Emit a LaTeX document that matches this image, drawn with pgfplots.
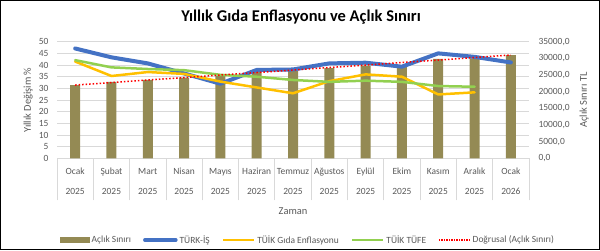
\documentclass[border=0pt]{standalone}
\usepackage{fontspec}
\setmainfont{Carlito}
\usepackage{pgfplots}
\pgfplotsset{compat=1.18}
\definecolor{barcol}{RGB}{148,138,84}
\definecolor{tblue}{RGB}{68,114,196}
\definecolor{tyellow}{RGB}{255,192,0}
\definecolor{tgreen}{RGB}{146,208,80}
\definecolor{tred}{RGB}{255,0,0}
\definecolor{gridc}{RGB}{217,217,217}
\definecolor{txt}{RGB}{89,89,89}
\pgfplotsset{base/.style={scale only axis, width=472bp, height=116.7bp,
  at={(57bp,91.6bp)}, anchor=south west, xmin=-0.5, xmax=12.5,
  /pgf/number format/assume math mode=true,
  tick label style={font=\fontsize{9.5}{11}\selectfont, text=txt}}}
\begin{document}
\begin{tikzpicture}[x=1bp,y=1bp]
\path[use as bounding box] (0,0) rectangle (600,250);
\draw[black, line width=1bp] (0.5,0.5) rectangle (599.5,249.5);
\node[font=\fontsize{16.5}{18}\selectfont\bfseries] at (301,233) {Yıllık Gıda Enflasyonu ve Açlık Sınırı};
% axis A: grid, left ticks, categories
\begin{axis}[base, ymin=0, ymax=50, ytick={0,5,...,50},
  ymajorgrids, grid style={gridc, line width=0.8bp},
  axis line style={draw=none}, ytick style={draw=none},
  yticklabel style={xshift=-5bp},
  xtick={0,...,12}, xtick pos=bottom,
  xticklabels={{Ocak\\2025},{Şubat\\2025},{Mart\\2025},{Nisan\\2025},{Mayıs\\2025},{Haziran\\2025},{Temmuz\\2025},{Ağustos\\2025},{Eylül\\2025},{Ekim\\2025},{Kasım\\2025},{Aralık\\2025},{Ocak\\2026}},
  xticklabel style={align=center, font=\fontsize{9.5}{20}\selectfont, yshift=-6.5bp},
  major tick length=0pt,
  extra x ticks={-0.5,0.5,...,12.5}, extra x tick labels={},
  extra x tick style={major tick length=42bp, tick align=outside, xtick style={draw=gridc, line width=0.8bp}},
  xlabel={Zaman}, xlabel style={at={(axis description cs:0.5,-0.452)}, anchor=center, font=\fontsize{10.5}{12}\selectfont, text=txt},
  ylabel={Yıllık Değişim \%}, ylabel style={at={(axis description cs:-0.0614,0.5)}, anchor=center, font=\fontsize{10.5}{12}\selectfont, text=txt},
]
\addplot[draw=none] coordinates {(0,0)};
\end{axis}
% axis B: bars, right scale
\begin{axis}[base, ymin=0, ymax=35000, axis y line*=right, axis x line=none,
  ytick={0,5000,...,35000}, scaled y ticks=false,
  yticklabel style={xshift=6bp, /pgf/number format/.cd, fixed, fixed zerofill, precision=1, use comma, 1000 sep={}},
  ytick style={draw=none}, y axis line style={draw=none},
  ylabel={Açlık Sınırı TL}, ylabel style={at={(axis description cs:1.1165,0.5)}, anchor=center, font=\fontsize{10.5}{12}\selectfont, text=txt},
]
\addplot[ybar, bar width=10bp, fill=barcol, draw=none] coordinates {
(0,22000) (1,22960) (2,23520) (3,24220) (4,24780) (5,25970) (6,26200)
(7,27090) (8,27790) (9,27600) (10,29820) (11,30030) (12,31010)};
\end{axis}
% axis C: lines
\begin{axis}[base, ymin=0, ymax=50, hide axis]
\addplot[tblue, line width=4bp, line join=round, line cap=round] coordinates {
(0,47.1) (1,43.3) (2,40.7) (3,36.4) (4,32.0) (5,37.9) (6,38.1)
(7,40.7) (8,41.0) (9,39.3) (10,45.0) (11,43.5) (12,41.1)};
\addplot[tyellow, line width=2.5bp, line join=round, line cap=round] coordinates {
(0,41.5) (1,35.3) (2,37.0) (3,36.2) (4,32.9) (5,30.4) (6,27.9)
(7,33.1) (8,36.0) (9,35.0) (10,27.4) (11,28.3)};
\addplot[tgreen, line width=2.5bp, line join=round, line cap=round] coordinates {
(0,42.1) (1,39.0) (2,38.3) (3,37.8) (4,35.8) (5,35.0) (6,33.6)
(7,32.8) (8,33.3) (9,32.8) (10,31.0) (11,30.7)};
\end{axis}
% axis D: trend + legend
\begin{axis}[base, ymin=0, ymax=35000, hide axis,
  legend columns=-1,
  legend style={at={(0.532,-0.700)}, anchor=center, draw=none, fill=none,
    font=\fontsize{9.5}{11}\selectfont, text=txt,
    /tikz/every even column/.append style={column sep=10bp}},
]
\addlegendimage{legend image code/.code={\fill[barcol] (0bp,-2.5bp) rectangle (29bp,2.5bp);}}
\addlegendentry{Açlık Sınırı}
\addlegendimage{legend image code/.code={\draw[tblue, line width=3.5bp, line cap=round] (0bp,0bp) -- (31bp,0bp);}}
\addlegendentry{TÜRK-İŞ}
\addlegendimage{legend image code/.code={\draw[tyellow, line width=2.5bp] (0bp,0bp) -- (31bp,0bp);}}
\addlegendentry{TÜİK Gıda Enflasyonu}
\addlegendimage{legend image code/.code={\draw[tgreen, line width=2.5bp] (0bp,0bp) -- (31bp,0bp);}}
\addlegendentry{TÜİK TÜFE}
\addplot[tred, line width=1.5bp, dotted, legend image code/.code={\draw[tred, line width=1.5bp, densely dotted] (0bp,0bp) -- (31bp,0bp);}] coordinates {(0,22000) (12,31000)};
\addlegendentry{Doğrusal (Açlık Sınırı)}
\end{axis}
\end{tikzpicture}
\end{document}
